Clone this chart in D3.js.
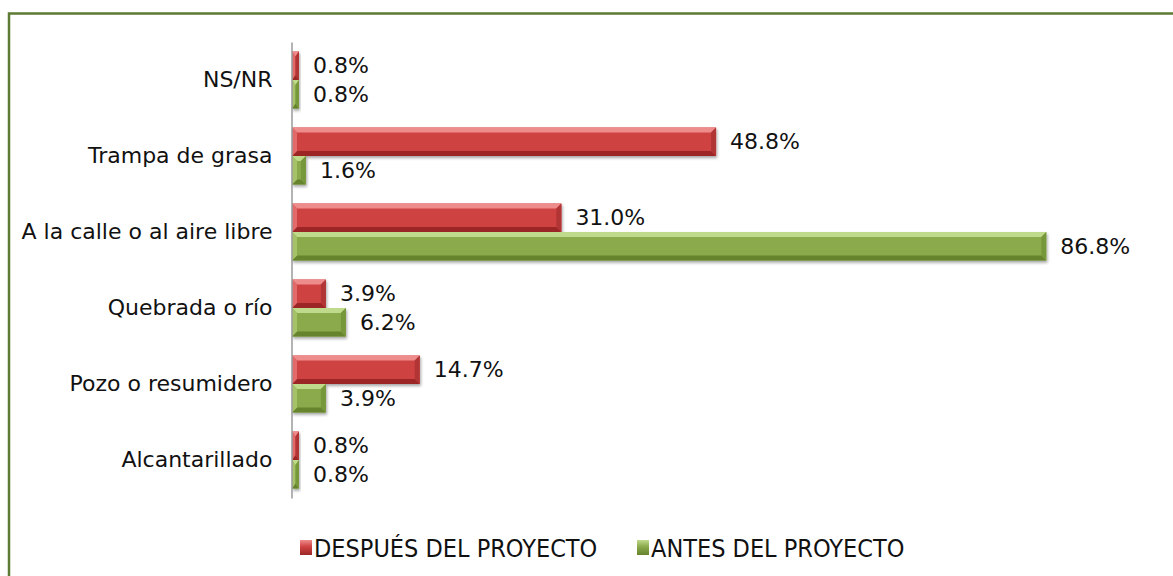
<!DOCTYPE html>
<html>
<head>
<meta charset="utf-8">
<script src="https://cdn.jsdelivr.net/npm/d3@7"></script>
<style>
  body { margin: 0; background: #fff; }
  svg { display: block; }
</style>
</head>
<body>
<div id="chart"></div>
<script>
const categories = ["NS/NR", "Trampa de grasa", "A la calle o al aire libre", "Quebrada o río", "Pozo o resumidero", "Alcantarillado"];
const despues = [0.8, 48.8, 31.0, 3.9, 14.7, 0.8];
const antes = [0.8, 1.6, 86.8, 6.2, 3.9, 0.8];
const seriesNames = ["DESPUÉS DEL PROYECTO", "ANTES DEL PROYECTO"];

const width = 1173;
const height = 576;
const margins = { top: 42, bottom: 78, left: 291, right: 100 };

// bevel colours per series
const palette = [
    { base: "#cf4242", light: "#ee8c8c", dark: "#9c2828", left: "#e26a6a", right: "#b13434" },
    { base: "#8aaa4b", light: "#c0da8b", dark: "#66832f", left: "#a5c268", right: "#77973b" }
];

const svg = d3.select("#chart")
    .append("svg")
    .attr("width", width)
    .attr("height", height);

const defs = svg.append("defs");
defs.append("filter")
    .attr("id", "shadow")
    .attr("x", "-10%").attr("y", "-30%").attr("width", "130%").attr("height", "180%")
    .append("feDropShadow")
    .attr("dx", 1).attr("dy", 2).attr("stdDeviation", 1.5)
    .attr("flood-color", "#000").attr("flood-opacity", 0.35);

palette.forEach((p, i) => {
    const g = defs.append("linearGradient")
        .attr("id", `leg-${i}`)
        .attr("x1", 0).attr("y1", 0).attr("x2", 0).attr("y2", 1);
    g.append("stop").attr("offset", "0%").attr("stop-color", p.light);
    g.append("stop").attr("offset", "45%").attr("stop-color", p.base);
    g.append("stop").attr("offset", "100%").attr("stop-color", p.dark);
});

// chart border (runs off the right and bottom edge like the original)
svg.append("rect")
    .attr("x", 9).attr("y", 13.5)
    .attr("width", width + 20).attr("height", height + 20)
    .attr("fill", "none")
    .attr("stroke", "#5e7b35")
    .attr("stroke-width", 2.5);

const x = d3.scaleLinear()
    .domain([0, 90])
    .range([margins.left + 1, margins.left + 1 + 90 * 8.69]);

const y = d3.scaleBand()
    .domain(categories)
    .range([margins.top, height - margins.bottom])
    .paddingInner(0.25)
    .paddingOuter(0.125);

const ySub = d3.scaleBand()
    .domain([0, 1])
    .range([0, y.bandwidth()]);

const data = categories.flatMap((c, i) => [
    { cat: c, s: 0, v: despues[i] },
    { cat: c, s: 1, v: antes[i] }
]);

// bars with a simple bevel
const bars = svg.append("g")
    .selectAll("g")
    .data(data)
    .join("g")
    .attr("filter", "url(#shadow)");

bars.each(function (d) {
    const g = d3.select(this);
    const p = palette[d.s];
    const x0 = x(0), x1 = x(d.v);
    const y0 = y(d.cat) + ySub(d.s), h = ySub.bandwidth();
    const y1 = y0 + h;
    const w = x1 - x0;
    const b = Math.min(5, w / 2);
    g.append("rect")
        .attr("x", x0).attr("y", y0)
        .attr("width", w).attr("height", h)
        .attr("fill", p.base);
    const poly = (pts, fill) => g.append("polygon")
        .attr("points", pts.map(q => q.join(",")).join(" "))
        .attr("fill", fill);
    poly([[x0, y0], [x1, y0], [x1 - b, y0 + 5], [x0 + b, y0 + 5]], p.light);
    poly([[x0, y1], [x1, y1], [x1 - b, y1 - 5], [x0 + b, y1 - 5]], p.dark);
    poly([[x0, y0], [x0 + b, y0 + 5], [x0 + b, y1 - 5], [x0, y1]], p.left);
    poly([[x1, y0], [x1 - b, y0 + 5], [x1 - b, y1 - 5], [x1, y1]], p.right);
});

// value labels
svg.append("g")
    .selectAll("text")
    .data(data)
    .join("text")
    .attr("x", d => x(d.v) + 14)
    .attr("y", d => y(d.cat) + ySub(d.s) + ySub.bandwidth() / 2)
    .attr("dy", "0.35em")
    .style("font", "22px 'DejaVu Sans', Verdana, sans-serif")
    .attr("fill", "#111")
    .text(d => d.v.toFixed(1) + "%");

// category axis
const gy = svg.append("g")
    .attr("transform", `translate(${margins.left + 0.5},0)`)
    .call(d3.axisLeft(y).tickSize(0).tickPadding(19).tickSizeOuter(0));
gy.select(".domain").attr("stroke", "#9a9a9a").attr("stroke-width", 1.5);
gy.selectAll("text")
    .style("font", "22px 'DejaVu Sans', Verdana, sans-serif")
    .attr("fill", "#111");

// legend
const legendX = [300, 637];
const legend = svg.append("g")
    .selectAll("g")
    .data(seriesNames)
    .join("g")
    .attr("transform", (_, i) => `translate(${legendX[i]},540)`);
legend.append("rect")
    .attr("width", 12).attr("height", 15)
    .attr("fill", (_, i) => `url(#leg-${i})`);
legend.append("text")
    .attr("x", 14).attr("y", 8)
    .attr("dy", "0.36em")
    .style("font", "25px 'DejaVu Sans Condensed', 'DejaVu Sans', sans-serif")
    .attr("fill", "#111")
    .text(d => d);
</script>
</body>
</html>
